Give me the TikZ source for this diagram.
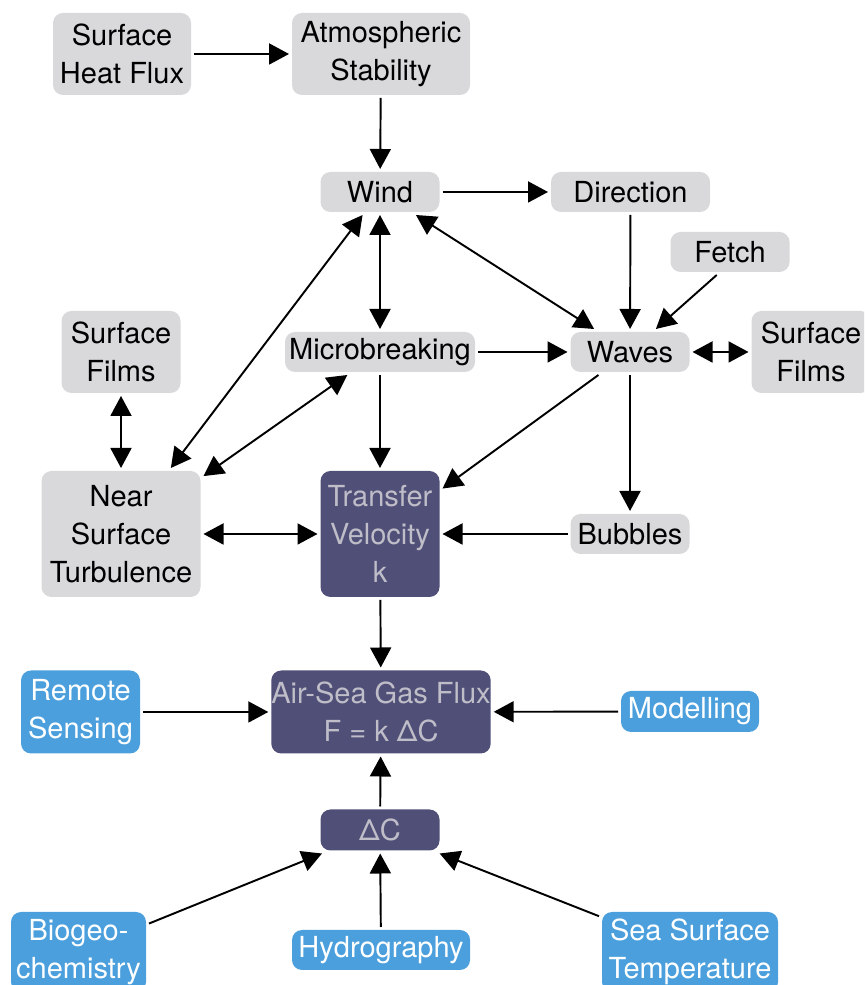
\documentclass[tikz,border=0pt]{standalone}
\usepackage{fontspec}
\setmainfont{TeX Gyre Heros}
\usetikzlibrary{arrows.meta}

\definecolor{boxgrey}{HTML}{D9D9DC}
\definecolor{fluxnavy}{HTML}{504F78}
\definecolor{fluxtext}{HTML}{BEBDC8}
\definecolor{obsblue}{HTML}{4A9FDC}

\tikzset{
  factor/.style={rounded corners=0.2cm,fill=boxgrey,align=center,inner sep=0pt,
    outer sep=0.06cm,font=\fontsize{16.5}{21.6}\selectfont},
  core/.style={factor,fill=fluxnavy,text=fluxtext},
  obs/.style={factor,fill=obsblue,text=white},
  link/.style={draw,line width=1.1pt,-{Triangle[length=0.4cm,width=0.42cm]}},
  both/.style={draw,line width=1.1pt,
    {Triangle[length=0.4cm,width=0.42cm]}-{Triangle[length=0.4cm,width=0.42cm]}}
}

\begin{document}
\begin{tikzpicture}

        \useasboundingbox (0,0) rectangle (17.28,19.70);
        \clip (0,0) rectangle (17.28,19.70);

        \begin{scope}[every node/.style={factor,minimum width=2.38cm,minimum height=0.8cm}]
          \node[minimum width=2.76cm,minimum height=1.64cm] (heat) at (2.44,18.62) {Surface\\Heat Flux};
          \node[minimum width=3.56cm,minimum height=1.64cm] (stab) at (7.62,18.62) {Atmospheric\\Stability};
          \node (wind)    at (7.60,15.86)  {Wind};
          \node[minimum width=3.18cm] (dir) at (12.61,15.86) {Direction};
          \node (fetch)   at (14.60,14.66) {Fetch};
          \node[minimum width=3.8cm] (micro) at (7.60,12.66) {Microbreaking};
          \node (waves)   at (12.60,12.66) {Waves};
          \node[minimum height=1.64cm] (filmsR) at (16.22,12.66) {Surface\\Films};
          \node[minimum height=1.64cm] (filmsL) at (2.42,12.66) {Surface\\Films};
          \node[minimum width=3.18cm,minimum height=2.52cm] (nst) at (2.42,9.02) {Near\\Surface\\Turbulence};
          \node (bubbles) at (12.60,9.02)  {Bubbles};
        \end{scope}

        \begin{scope}[every node/.style={core,minimum width=2.38cm,minimum height=0.82cm}]
          \node[minimum height=2.52cm] (kvel) at (7.60,9.02) {Transfer\\Velocity\\k};
          \node[minimum width=4.36cm,minimum height=1.66cm] (flux) at (7.62,5.46) {Air-Sea Gas Flux\\F = k ΔC};
          \node (dc) at (7.60,3.10) {ΔC};
        \end{scope}

        \begin{scope}[every node/.style={obs,minimum width=2.38cm,minimum height=0.8cm}]
          \node[minimum height=1.66cm] (remote) at (1.61,5.46) {Remote\\Sensing};
          \node[minimum width=2.76cm,minimum height=0.82cm] (model) at (13.80,5.47) {Modelling};
          \node[minimum width=2.7cm,minimum height=1.6cm] (bio) at (1.57,0.66) {Biogeo-\\chemistry};
          \node[minimum width=3.56cm] (hydro) at (7.62,0.70) {Hydrography};
          \node[minimum width=3.52cm,minimum height=1.6cm] (sst) at (13.80,0.66) {Sea Surface\\Temperature};
        \end{scope}

        % forcing of the wind field
        \path (heat)  edge[link] (stab);
        \path (stab)  edge[link] (wind);
        \path (wind)  edge[link] (dir);
        \path (dir)   edge[link] (waves);
        \path (fetch.240) edge[link] (waves);

        % surface processes
        \path (wind)  edge[both] (micro);
        \path (wind)  edge[both] (waves);
        \path (wind)  edge[both] (nst);
        \path (micro) edge[link] (waves);
        \path (micro) edge[both] (nst);
        \path (waves) edge[both] (filmsR);
        \path (filmsL) edge[both] (nst);
        \path (waves) edge[link] (bubbles);

        % transfer velocity and flux
        \path (micro)   edge[link] (kvel);
        \path (waves)   edge[link] (kvel);
        \path (bubbles) edge[link] (kvel);
        \path (nst)     edge[both] (kvel);
        \path (kvel)    edge[link] (flux);
        \path (remote)  edge[link] (flux);
        \path (model)   edge[link] (flux);
        \path (dc)      edge[link] (flux);
        \path (bio)     edge[link] (dc);
        \path (hydro)   edge[link] (dc);
        \path (sst)     edge[link] (dc);

      \end{tikzpicture}
\end{document}
